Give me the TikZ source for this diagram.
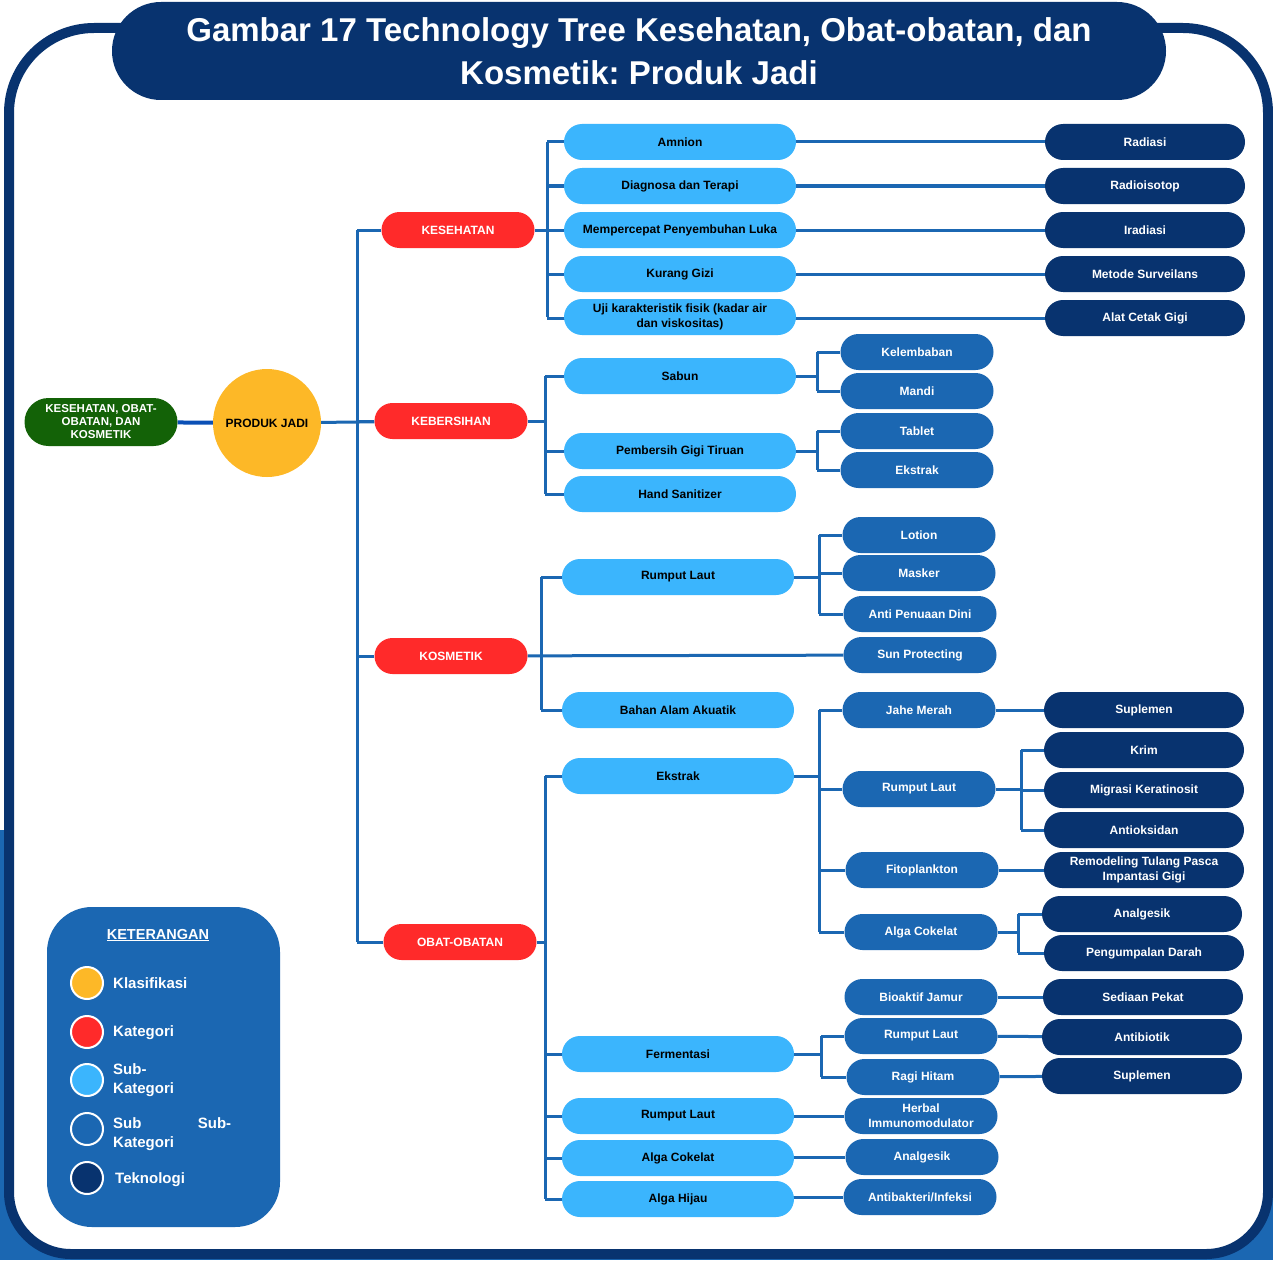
\documentclass[tikz,border=0pt]{standalone}
\usepackage{fontspec}
\setmainfont{Liberation Sans}
\frenchspacing
\definecolor{navy}{HTML}{08336F}
\definecolor{mblue}{HTML}{1B67B2}
\definecolor{lblue}{HTML}{3BB5FD}
\definecolor{catred}{HTML}{FF2A2A}
\definecolor{klsyel}{HTML}{FDB827}
\definecolor{rootgreen}{HTML}{136207}
\definecolor{rootline}{HTML}{0A4FB5}
\pgfdeclarelayer{bgzero}
\pgfdeclarelayer{bgone}
\pgfsetlayers{bgzero,bgone,main}
\tikzset{
  pill/.style={rectangle, rounded corners=18pt, minimum height=36pt, inner sep=2pt, align=center,
    font=\bfseries\fontsize{12}{15}\selectfont},
  catnode/.style={pill, fill=catred, text=white, minimum width=153pt},
  subnode/.style={pill, fill=lblue, text=black, minimum width=232pt},
  ssnode/.style={pill, fill=mblue, text=white, minimum width=153pt},
  technode/.style={pill, fill=navy, text=white, minimum width=200pt},
  rootnode/.style={pill, fill=rootgreen, text=white, minimum width=153pt, minimum height=48pt,
    rounded corners=24pt, font=\bfseries\fontsize{11.5}{13}\selectfont},
  link/.style={draw=mblue, line width=3pt},
  legdot/.style={circle, draw=white, line width=2pt, minimum size=32pt, inner sep=0pt},
  leglabel/.style={anchor=west, text=white, align=left, inner sep=0pt,
    font=\bfseries\fontsize{15}{19}\selectfont},
}
\begin{document}
\begin{tikzpicture}[x=1pt,y=-1pt]
\useasboundingbox (0,0) rectangle (1273,1260);
\begin{pgfonlayer}{bgzero}
  \fill[mblue] (0,830) rectangle (1273,1260);
  \draw[navy, line width=10pt, fill=white] (9,640) [rounded corners=85] |- (640,28) -| (1268,640)
     [rounded corners=62] |- (640,1254) -| (9,630) -- cycle;
  \fill[navy, rounded corners=49] (112,2) rectangle (1166,100);
\end{pgfonlayer}
\node[text=white, align=center, font=\bfseries\fontsize{33}{43}\selectfont] (title) at (639,51)
  {Gambar 17 Technology Tree Kesehatan, Obat-obatan, dan\\Kosmetik: Produk Jadi};

% root and classification
\node[rootnode] (root) at (101,422) {KESEHATAN, OBAT-\\OBATAN, DAN\\KOSMETIK};
\node[circle, fill=klsyel, minimum size=108pt, inner sep=0pt, text=black,
  font=\bfseries\fontsize{12}{13}\selectfont] (produk) at (267,423) {PRODUK JADI};

% categories
\node[catnode] (kes) at (458,230) {KESEHATAN};
\node[catnode] (keb) at (451,421) {KEBERSIHAN};
\node[catnode] (kos) at (451,656) {KOSMETIK};
\node[catnode] (obt) at (460,942) {OBAT-OBATAN};

% KESEHATAN
\node[subnode] (amnion) at (680,142) {Amnion};
\node[subnode] (diag) at (680,186) {Diagnosa dan Terapi};
\node[subnode] (luka) at (680,230) {Mempercepat Penyembuhan Luka};
\node[subnode] (gizi) at (680,274) {Kurang Gizi};
\node[subnode] (uji) at (680,317) {Uji karakteristik fisik (kadar air\\dan viskositas)};
\node[technode] (radiasi) at (1145,142) {Radiasi};
\node[technode] (radioiso) at (1145,186) {Radioisotop};
\node[technode] (iradiasi) at (1145,230) {Iradiasi};
\node[technode] (surv) at (1145,274) {Metode Surveilans};
\node[technode] (cetak) at (1145,318) {Alat Cetak Gigi};

% KEBERSIHAN
\node[subnode] (sabun) at (680,376) {Sabun};
\node[subnode] (pgt) at (680,451) {Pembersih Gigi Tiruan};
\node[subnode] (hand) at (680,494) {Hand Sanitizer};
\node[ssnode] (kelembaban) at (917,352) {Kelembaban};
\node[ssnode] (mandi) at (917,391) {Mandi};
\node[ssnode] (tablet) at (917,431) {Tablet};
\node[ssnode] (ekstrakA) at (917,470) {Ekstrak};

% KOSMETIK
\node[subnode] (rumputK) at (678,577) {Rumput Laut};
\node[subnode] (bahan) at (678,710) {Bahan Alam Akuatik};
\node[ssnode] (lotion) at (919,535) {Lotion};
\node[ssnode] (masker) at (919,573) {Masker};
\node[ssnode] (anti) at (920,614) {Anti Penuaan Dini};
\node[ssnode] (sun) at (920,655) {Sun Protecting};

% OBAT-OBATAN
\node[subnode] (ekstrakB) at (678,776) {Ekstrak};
\node[subnode] (ferm) at (678,1054) {Fermentasi};
\node[subnode] (rumputO) at (678,1116) {Rumput Laut};
\node[subnode] (algaC) at (678,1158) {Alga Cokelat};
\node[subnode] (algaH) at (678,1199) {Alga Hijau};

\node[ssnode] (jahe) at (919,710) {Jahe Merah};
\node[ssnode] (rumputE) at (919,789) {Rumput Laut};
\node[ssnode] (fito) at (922,870) {Fitoplankton};
\node[ssnode] (algaCE) at (921,932) {Alga Cokelat};
\node[ssnode] (bioaktif) at (921,997) {Bioaktif Jamur};
\node[ssnode] (rumputF) at (921,1036) {Rumput Laut};
\node[ssnode] (ragi) at (923,1077) {Ragi Hitam};
\node[ssnode] (herbal) at (921,1116) {Herbal\\Immunomodulator};
\node[ssnode] (analgesikS) at (922,1157) {Analgesik};
\node[ssnode] (antibakteri) at (920,1197) {Antibakteri/Infeksi};

\node[technode] (suplemenA) at (1144,710) {Suplemen};
\node[technode] (krim) at (1144,750) {Krim};
\node[technode] (migrasi) at (1144,790) {Migrasi Keratinosit};
\node[technode] (antiok) at (1144,830) {Antioksidan};
\node[technode] (remodel) at (1144,870) {Remodeling Tulang Pasca\\Impantasi Gigi};
\node[technode] (analgesikT) at (1142,914) {Analgesik};
\node[technode] (pengumpalan) at (1144,953) {Pengumpalan Darah};
\node[technode] (sediaan) at (1143,997) {Sediaan Pekat};
\node[technode] (antibiotik) at (1142,1037) {Antibiotik};
\node[technode] (suplemenB) at (1142,1076) {Suplemen};

% legend
\node[fill=mblue, rounded corners=45pt, minimum width=233pt, minimum height=320pt, inner sep=0pt] (legend) at (163.5,1067) {};
\node[text=white, font=\bfseries\fontsize{14.5}{16}\selectfont, inner sep=0pt] (legtitle) at (158,935) {\underline{KETERANGAN}};
\node[legdot, fill=klsyel] (d1) at (87,983) {};
\node[legdot, fill=catred] (d2) at (87,1032) {};
\node[legdot, fill=lblue] (d3) at (87,1080) {};
\node[legdot, fill=mblue] (d4) at (87,1129) {};
\node[legdot, fill=navy] (d5) at (87,1178) {};
\node[leglabel] (l1) at (113,983) {Klasifikasi};
\node[leglabel] (l2) at (113,1033) {Kategori};
\node[leglabel] (l3) at (113,1080) {Sub-\\Kategori};
\node[leglabel, text width=118pt] (l4) at (113,1134) {Sub\hfill Sub-\\Kategori};
\node[leglabel] (l5) at (115,1180) {Teknologi};

% connectors
\begin{pgfonlayer}{bgone}
  \draw[draw=rootline, line width=4pt] (root) -- (produk);
  \draw[link] (produk) -- (keb);
  \coordinate (tr) at (357,0);
  \draw[link] (tr |- kes) -- (tr |- obt);
  \foreach \c in {kes,keb,kos,obt} \draw[link] (tr |- \c) -- (\c);
  % kesehatan
  \coordinate (t1) at (547,0);
  \draw[link] (kes) -- (t1 |- kes);
  \draw[link] (t1 |- amnion) -- (t1 |- uji);
  \foreach \c/\d in {amnion/radiasi,diag/radioiso,luka/iradiasi,gizi/surv} {
    \draw[link] (t1 |- \c) -- (\c);
    \draw[link] (\c) -- (\d);
  }
  \draw[link] (t1 |- cetak) -- (uji.center |- cetak) -- (cetak);
  % kebersihan
  \coordinate (t2) at (545,0);
  \draw[link] (keb) -- (t2 |- keb);
  \draw[link] (t2 |- sabun) -- (t2 |- hand);
  \foreach \c in {sabun,pgt,hand} \draw[link] (t2 |- \c) -- (\c);
  \coordinate (t3) at (817,0);
  \draw[link] (sabun) -- (t3 |- sabun);
  \draw[link] (t3 |- kelembaban) -- (t3 |- mandi);
  \foreach \c in {kelembaban,mandi} \draw[link] (t3 |- \c) -- (\c);
  \draw[link] (pgt) -- (t3 |- pgt);
  \draw[link] (t3 |- tablet) -- (t3 |- ekstrakA);
  \foreach \c in {tablet,ekstrakA} \draw[link] (t3 |- \c) -- (\c);
  % kosmetik
  \coordinate (t4) at (541,0);
  \draw[link] (t4 |- rumputK) -- (t4 |- bahan);
  \foreach \c in {rumputK,bahan} \draw[link] (t4 |- \c) -- (\c);
  \draw[link] (kos) -- (sun);
  \coordinate (t5) at (819,0);
  \draw[link] (rumputK) -- (t5 |- rumputK);
  \draw[link] (t5 |- lotion) -- (t5 |- anti);
  \foreach \c in {lotion,masker,anti} \draw[link] (t5 |- \c) -- (\c);
  % obat-obatan
  \coordinate (t6) at (545,0);
  \draw[link] (obt) -- (t6 |- obt);
  \draw[link] (t6 |- ekstrakB) -- (t6 |- algaH);
  \foreach \c in {ekstrakB,ferm,rumputO,algaC,algaH} \draw[link] (t6 |- \c) -- (\c);
  \coordinate (t7) at (819,0);
  \draw[link] (ekstrakB) -- (t7 |- ekstrakB);
  \draw[link] (t7 |- jahe) -- (t7 |- algaCE);
  \foreach \c in {jahe,rumputE,fito,algaCE} \draw[link] (t7 |- \c) -- (\c);
  \draw[link] (jahe) -- (suplemenA);
  \coordinate (t8) at (1021,0);
  \draw[link] (rumputE) -- (t8 |- rumputE);
  \draw[link] (t8 |- krim) -- (t8 |- antiok);
  \foreach \c in {krim,migrasi,antiok} \draw[link] (t8 |- \c) -- (\c);
  \draw[link] (fito) -- (remodel);
  \coordinate (t9) at (1018,0);
  \draw[link] (algaCE) -- (t9 |- algaCE);
  \draw[link] (t9 |- analgesikT) -- (t9 |- pengumpalan);
  \foreach \c in {analgesikT,pengumpalan} \draw[link] (t9 |- \c) -- (\c);
  \draw[link] (bioaktif) -- (sediaan);
  \coordinate (t10) at (821,0);
  \draw[link] (ferm) -- (t10 |- ferm);
  \draw[link] (t10 |- rumputF) -- (t10 |- ragi);
  \foreach \c in {rumputF,ragi} \draw[link] (t10 |- \c) -- (\c);
  \draw[link] (rumputF) -- (antibiotik);
  \draw[link] (ragi) -- (suplemenB);
  \draw[link] (rumputO) -- (herbal);
  \draw[link] (algaC.center |- analgesikS) -- (analgesikS);
  \draw[link] (algaH.center |- antibakteri) -- (antibakteri);
\end{pgfonlayer}
\end{tikzpicture}
\end{document}
